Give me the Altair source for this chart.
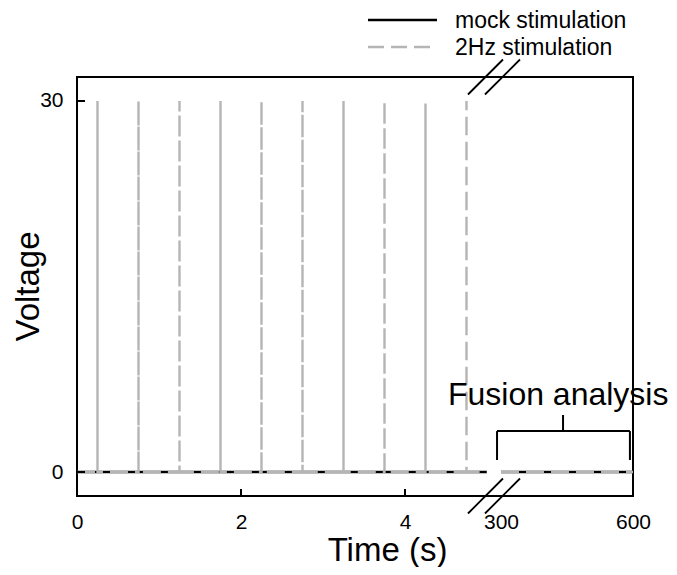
import altair as alt
import pandas as pd

# ---------------- values ----------------
series_names = ["mock stimulation", "2Hz stimulation"]
series_colors = ["#000000", "#b5b5b5"]
spike_times = [0.25, 0.75, 1.25, 1.75, 2.25, 2.75, 3.25, 3.75, 4.25, 4.75]
spike_peaks = [30, 30, 30, 30, 30, 30, 30, 30, 29.8, 30]
early_window = [0, 5.0]
late_window = [300, 600]
baseline_v = 0
x_tick_values = [0, 2, 4, 300, 600]
y_tick_values = [0, 30]
inner_x_ticks = [0, 2, 4]
fusion_window = [291, 593]
fusion_stem = 441
fusion_label = "Fusion analysis"

FONT = "Liberation Sans"

# ---------------- broken x axis mapping ----------------
U300 = 5.1707      # axis position of t = 300 s
K = 0.005366       # axis units per second after the break
U_MAX = 6.7805
U_BREAK = 5.085


def to_axis(t):
    return t if t < 100 else U300 + (t - 300) * K


# ---------------- build trace tables ----------------
rows = []
idx = 0
# mock stimulation
for seg, (a, b) in [("early", early_window), ("late", late_window)]:
    for t in (a, b):
        rows.append(dict(series=series_names[0], seg=seg, idx=idx, u=to_axis(t), v=baseline_v))
        idx += 1
# 2 Hz stimulation
rows.append(dict(series=series_names[1], seg="early", idx=idx, u=to_axis(early_window[0]), v=baseline_v)); idx += 1
for s, p in zip(spike_times, spike_peaks):
    for v in (baseline_v, p, baseline_v):
        rows.append(dict(series=series_names[1], seg="early", idx=idx, u=to_axis(s), v=v))
        idx += 1
rows.append(dict(series=series_names[1], seg="early", idx=idx, u=to_axis(early_window[1]), v=baseline_v)); idx += 1
for t in late_window:
    rows.append(dict(series=series_names[1], seg="late", idx=idx, u=to_axis(t), v=baseline_v))
    idx += 1
traces = pd.DataFrame(rows)
mock_df = traces[traces.series == series_names[0]]
hz_df = traces[traces.series == series_names[1]]

xscale = alt.Scale(domain=[0, U_MAX], nice=False, zero=False)
yscale = alt.Scale(domain=[-1.94, 31.94], nice=False, zero=False)

xenc = alt.X(
    "u:Q", scale=xscale,
    axis=alt.Axis(
        values=[to_axis(t) for t in x_tick_values],
        labelExpr="datum.value > 5 ? format(300 + (datum.value - 5.1707) / 0.005366, '.0f') : format(datum.value, '.0f')",
        domain=False, ticks=False, grid=False,
        labelFont=FONT, labelFontSize=21, labelColor="black", labelPadding=15,
        labelFlush=False, labelOverlap=False,
        title="Time (s)", titleFont=FONT, titleFontSize=33, titleFontWeight="normal",
        titleColor="black", titleX=310, titleY=64, titleAlign="center", titleBaseline="alphabetic",
    ),
)
yenc = alt.Y(
    "v:Q", scale=yscale,
    axis=alt.Axis(
        values=y_tick_values, domain=False, ticks=False, grid=False,
        labelFont=FONT, labelFontSize=21, labelColor="black", labelPadding=14,
        title="Voltage", titleFont=FONT, titleFontSize=33, titleFontWeight="normal",
        titleColor="black", titleX=-39, titleY=209, titleAlign="center",
        titleBaseline="alphabetic", titleAngle=-90,
    ),
)

mock = alt.Chart(mock_df).mark_line(color=series_colors[0], strokeWidth=2.6).encode(
    x=xenc, y=yenc, detail="seg:N", order="idx:Q"
)
hz = alt.Chart(hz_df).mark_line(color=series_colors[1], strokeWidth=2.4, strokeDash=[18, 7]).encode(
    x=xenc, y=yenc, detail="seg:N", order="idx:Q"
)

# inward ticks
xt = alt.Chart(pd.DataFrame({"u": [to_axis(t) for t in inner_x_ticks]})).mark_rule(
    color="black", strokeWidth=2).encode(x=xenc, y=alt.value(419), y2=alt.value(412))
yt = alt.Chart(pd.DataFrame({"v": y_tick_values})).mark_rule(
    color="black", strokeWidth=2).encode(y=yenc, x=alt.value(0), x2=alt.value(8))

# axis break marks (//)
px = 556 / U_MAX
py = 419 / (31.94 + 1.94)
brk = []
for cx in (-8.5, 8.5):
    for cy in (31.94, -1.94):
        brk.append(dict(u=U_BREAK + (cx - 17.5) / px, u2=U_BREAK + (cx + 17.5) / px,
                        v=cy - 17.5 / py, v2=cy + 17.5 / py))
breaks = alt.Chart(pd.DataFrame(brk)).mark_rule(color="black", strokeWidth=1.8).encode(
    x=xenc, x2="u2:Q", y=yenc, y2="v2:Q")

# fusion analysis bracket
fa, fb = fusion_window
br = pd.DataFrame([
    dict(u=to_axis(fa), u2=to_axis(fb), v=3.31, v2=3.31),
    dict(u=to_axis(fa), u2=to_axis(fa), v=0.97, v2=3.31),
    dict(u=to_axis(fb), u2=to_axis(fb), v=0.97, v2=3.31),
    dict(u=to_axis(fusion_stem), u2=to_axis(fusion_stem), v=3.31, v2=4.61),
])
bracket = alt.Chart(br).mark_rule(color="black", strokeWidth=2).encode(
    x=xenc, x2="u2:Q", y=yenc, y2="v2:Q")
ftext = alt.Chart(pd.DataFrame({"u": [to_axis(430)], "v": [5.42], "label": [fusion_label]})).mark_text(
    font=FONT, fontSize=32, color="black", align="center", baseline="alphabetic").encode(
    x=xenc, y=yenc, text="label:N")

# legend (above the plot)
leg_layers = []
for i, (name, col) in enumerate(zip(series_names, series_colors)):
    ly = -57 + 27 * i
    dash = [1, 0] if i == 0 else [16, 7]
    one = pd.DataFrame({"label": [name]})
    leg_layers.append(alt.Chart(one).mark_rule(color=col, strokeWidth=2.4, strokeDash=dash).encode(
        x=alt.value(291), x2=alt.value(360), y=alt.value(ly)))
    leg_layers.append(alt.Chart(one).mark_text(
        font=FONT, fontSize=23, color="black", align="left", baseline="alphabetic").encode(
        x=alt.value(378), y=alt.value(ly + 7.5), text="label:N"))

chart = alt.layer(mock, hz, xt, yt, breaks, bracket, ftext, *leg_layers).properties(
    width=556, height=419,
    autosize=alt.AutoSizeParams(type="none"),
    padding={"left": 69, "top": 69, "right": 36, "bottom": 71},
    background="white",
).configure_view(stroke="black", strokeWidth=2)

chart.save("out.html", embed_options={"renderer": "svg", "actions": False})
